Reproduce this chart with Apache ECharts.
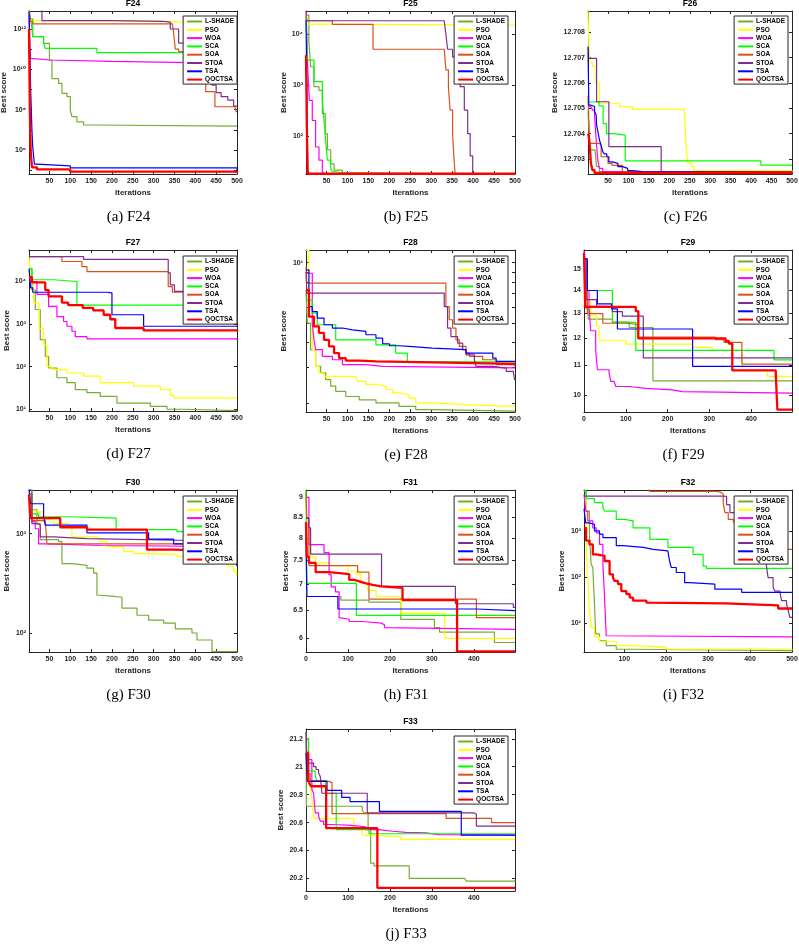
<!DOCTYPE html>
<html>
<head>
<meta charset="utf-8">
<script src="https://cdn.jsdelivr.net/npm/echarts@6.0.0/dist/echarts.min.js"></script>
<style>
html,body{margin:0;padding:0;background:#fff}
#main{width:799px;height:944px}
</style>
</head>
<body>
<div id="main"></div>
<script>
// algorithms, in legend order
var algos = ['L-SHADE', 'PSO', 'WOA', 'SCA', 'SOA', 'STOA', 'TSA', 'QOCTSA'];
var lineColors = ['#77AC30', '#FFFF00', '#FF00FF', '#00FF00', '#D95319', '#7E2F8E', '#0000FF', '#FF0000'];

// convergence curves [iteration, best score], one list per algorithm (same order as algos)
var f24 = [
  [[1,8e12],[5,3e12],[8,1.07e12],[10,4.2e11],[36,1.95e11],[50,2.9e10],[56,3.5e9],[72,2.0e9],[80,6.5e8],[92,4.4e8],[100,9.5e7],[104,4.5e7],[116,2.5e7],[132,1.74e7],[150,1.55e7],[500,1.5e7]],
  [[1,7e12],[4,2.6e12],[200,2.4e12],[330,2.1e12],[380,1.9e12],[500,1.9e12]],
  [[1,5e12],[3,1e11],[5,3.5e10],[8,2.9e10],[50,2.5e10],[200,2.0e10],[500,1.8e10]],
  [[1,8e12],[4,3.2e12],[10,4.2e11],[30,4.2e11],[36,2.1e11],[40,1.1e11],[164,6.8e10],[440,6.8e10],[460,7.6e9],[500,7.6e9]],
  [[1,1e13],[5,2.3e12],[10,1.8e12],[345,1.8e12],[348,6e11],[352,1e11],[360,7.6e10],[380,1e10],[400,3e9],[425,7.8e8],[447,1.4e8],[495,1.4e8],[498,8e7],[500,8e7]],
  [[1,1e13],[32,2.6e12],[200,2.4e12],[324,2.2e12],[340,1e12],[360,2e11],[400,3e10],[430,6e9],[440,1.66e9],[450,7e8],[462,4.4e8],[478,3e8],[492,1.5e8],[500,1.5e8]],
  [[1,7e12],[3,1e11],[5,1e9],[8,1e7],[10,1.4e6],[14,2e5],[20,1.66e5],[100,1.3e5],[500,8.5e4]],
  [[1,1e12],[3,1e8],[5,1e6],[8,1.4e5],[20,1.1e5],[100,8.5e4],[500,7.2e4]]
];
var f25 = [
  [[1,2.4e4],[8,7.2e3],[12,2.3e3],[20,9.3e2],[32,7.9e2],[40,2.75e2],[47,1.1e2],[52,5.3e1],[60,2.8e1],[68,2.1e1],[88,1.86e1],[112,1.78e1],[500,1.78e1]],
  [[1,1.6e4],[2,1.53e4],[500,1.53e4]],
  [[1,2.9e4],[3,1e4],[5,2.3e3],[9,5e2],[16,2.0e2],[24,6.0e1],[32,3.3e1],[40,1.95e1],[44,1.78e1],[500,1.78e1]],
  [[1,2.4e4],[4,3.1e3],[20,1.17e3],[40,5e2],[44,2e2],[48,8.1e1],[52,3.3e1],[60,2.3e1],[64,1.95e1],[72,1.8e1],[104,1.78e1],[500,1.78e1]],
  [[1,2.4e4],[4,1.86e4],[64,1.58e4],[161,5.1e3],[331,5.1e3],[335,2.0e3],[341,9.3e2],[345,3.2e2],[351,1.1e2],[354,3.9e1],[357,1.78e1],[500,1.78e1]],
  [[1,1.86e4],[331,1.86e4],[335,1e4],[339,5.1e3],[351,3.6e3],[363,2e3],[369,9.3e2],[379,3.2e2],[387,1.1e2],[393,4e1],[399,1.78e1],[500,1.78e1]],
  [[1,1.9e4],[3,1e3],[5,2e1],[8,1.78e1],[500,1.78e1]],
  [[1,3.9e3],[3,1.5e2],[5,1.78e1],[500,1.78e1]]
];
var f26 = [
  [[1,12.7049],[4,12.70388],[8,12.70336],[18,12.7033],[22,12.7027],[29,12.7025],[60,12.70244],[500,12.70242]],
  [[1,12.7089],[3,12.7075],[6,12.70678],[12,12.70665],[20,12.706],[29,12.7052],[78,12.70507],[110,12.70496],[237,12.70496],[241,12.7035],[245,12.70283],[255,12.7027],[260,12.70255],[500,12.70245]],
  [[1,12.70507],[8,12.70505],[12,12.70493],[17,12.70474],[21,12.70375],[25,12.70296],[29,12.70263],[37,12.7025],[60,12.70244],[500,12.70243]],
  [[1,12.70525],[28,12.7051],[38,12.7044],[46,12.704],[66,12.70394],[92,12.70293],[424,12.70276],[500,12.70276]],
  [[1,12.7055],[5,12.70362],[28,12.70355],[33,12.70309],[50,12.70283],[60,12.70275],[85,12.7025],[500,12.70244]],
  [[1,12.70697],[22,12.70526],[52,12.70349],[180,12.7025],[500,12.70245]],
  [[1,12.70743],[3,12.70513],[8,12.70507],[17,12.70487],[21,12.70474],[22,12.70434],[26,12.70401],[29,12.70375],[33,12.70355],[37,12.70329],[41,12.7032],[47,12.70309],[52,12.70289],[61,12.70283],[74,12.7027],[86,12.70263],[98,12.70254],[110,12.7025],[134,12.70247],[500,12.70246]],
  [[1,12.704],[3,12.70388],[6,12.70336],[8,12.70283],[12,12.70256],[17,12.70245],[500,12.70243]]
];
var f27 = [
  [[1,2.0e4],[8,6.3e3],[16,2.2e3],[28,4.3e2],[40,1.74e2],[48,9.3e1],[68,5.5e1],[92,4.2e1],[112,2.9e1],[140,2.45e1],[172,2.0e1],[212,1.4e1],[292,1.17e1],[332,1.0e1],[371,9.3],[500,9.2]],
  [[1,4.0e4],[5,1e4],[12,3.2e3],[25,7.9e2],[36,3.2e2],[44,1.02e2],[56,8.5e1],[92,7.1e1],[132,6.0e1],[172,4.2e1],[252,3.5e1],[316,2.9e1],[340,2.1e1],[348,1.86e1],[500,1.8e1]],
  [[1,1e4],[20,5.0e3],[48,2.6e3],[68,1.5e3],[84,1.15e3],[92,8.9e2],[104,6.8e2],[112,5.1e2],[140,4.5e2],[500,4.2e2]],
  [[1,2.0e4],[8,1.1e4],[60,1.0e4],[116,2.8e3],[480,2.8e3],[495,2.2e3],[500,2.2e3]],
  [[1,3.85e4],[80,2.95e4],[128,2.24e4],[140,1.7e4],[328,1.7e4],[335,7.6e3],[345,5.6e3],[420,3.2e3],[470,1.6e3],[500,1.0e3]],
  [[1,3.85e4],[132,3.3e4],[330,3.3e4],[335,1.6e4],[340,8.3e3],[350,5.9e3],[450,4e3],[480,2e3],[500,1.0e3]],
  [[1,2e4],[5,7.1e3],[10,5.6e3],[188,5.4e3],[200,1.66e3],[276,8.9e2],[500,8.5e2]],
  [[1,1.26e4],[8,9.5e3],[40,6.3e3],[48,4.5e3],[80,3.2e3],[95,2.8e3],[130,2.4e3],[155,2.1e3],[180,1.66e3],[196,1.3e3],[208,8.1e2],[276,7.1e2],[500,6.6e2]]
];
var f28 = [
  [[1,7.3],[4,4.99],[12,3.68],[24,3.04],[36,2.82],[48,2.61],[60,2.42],[72,2.28],[96,2.15],[128,2.07],[168,2.0],[223,1.92],[263,1.85],[303,1.82],[500,1.81]],
  [[1,11.5],[8,6.04],[16,3.68],[24,3.04],[32,2.82],[44,2.71],[120,2.71],[124,2.56],[144,2.47],[168,2.42],[192,2.33],[208,2.24],[223,2.2],[247,2.11],[263,2.0],[303,1.96],[383,1.92],[500,1.91]],
  [[1,8.85],[16,4.99],[20,4.12],[24,3.68],[40,3.41],[64,3.28],[88,3.1],[144,3.04],[184,2.99],[500,2.98]],
  [[1,6.5],[16,5.6],[28,4.9],[72,4.12],[168,3.89],[215,3.54],[243,3.2],[500,3.2]],
  [[1,9.5],[3,7.9],[326,7.9],[335,6.04],[343,5.19],[351,4.72],[359,4.12],[367,3.82],[383,3.54],[391,3.41],[423,3.28],[455,3.1],[499,3.04],[500,3.04]],
  [[1,9],[3,7.05],[326,7.05],[331,6.04],[339,4.72],[347,4.28],[363,3.97],[375,3.68],[383,3.47],[403,3.28],[407,3.04],[447,2.98],[479,2.87],[496,2.82],[499,2.6],[500,2.6]],
  [[1,9.2],[8,6.04],[16,5.7],[28,5.29],[44,4.9],[64,4.72],[88,4.62],[112,4.54],[144,4.37],[168,4.2],[184,3.94],[200,3.85],[223,3.82],[247,3.75],[303,3.68],[383,3.54],[447,3.34],[455,3.22],[500,3.22]],
  [[1,7.3],[8,5.38],[20,4.81],[32,4.46],[44,4.12],[56,3.82],[68,3.54],[80,3.34],[96,3.25],[128,3.22],[168,3.18],[303,3.13],[500,3.1]]
];
var f29 = [
  [[0,15.5],[5,13.2],[10,12.77],[68,12.65],[108,12.43],[165,10.47],[498,10.47]],
  [[0,15.5],[4,13.5],[16,12.9],[30,12.5],[36,11.93],[100,11.78],[260,11.66],[307,11.55],[379,10.83],[439,10.62],[498,10.6]],
  [[0,15.9],[4,14.0],[12,13.3],[16,12.3],[28,11.55],[32,10.85],[60,10.74],[64,10.45],[72,10.39],[76,10.28],[108,10.22],[148,10.17],[212,10.11],[235,10.06],[498,10.06]],
  [[0,15.5],[4,14.0],[68,12.64],[124,11.55],[455,11.2],[498,11.2]],
  [[0,15.5],[8,13.0],[45,12.6],[100,12.55],[130,12.05],[315,11.95],[335,11.85],[378,11.05],[498,11.05]],
  [[0,15.5],[5,13.6],[30,13.3],[68,13.08],[92,12.89],[142,11.27],[498,11.27]],
  [[0,15.5],[8,14.0],[32,13.41],[66,13.2],[80,12.37],[260,10.97],[498,10.97]],
  [[0,15.8],[3,13.28],[124,13.1],[130,12.0],[339,11.9],[347,11.8],[355,10.83],[459,10.74],[463,9.54],[498,9.54]]
];
var f30 = [
  [[1,2.5e3],[8,1.74e3],[20,1.26e3],[28,8.7e2],[72,8.3e2],[80,5.0e2],[104,4.8e2],[140,4.5e2],[156,4.0e2],[164,2.4e2],[172,2.34e2],[204,2.29e2],[224,1.78e2],[260,1.51e2],[288,1.35e2],[324,1.26e2],[352,1.1e2],[392,1.0e2],[404,8.5e1],[440,6.5e1],[500,6.5e1]],
  [[1,2.8e3],[8,1.66e3],[36,1.38e3],[60,1.26e3],[96,1.17e3],[104,9.3e2],[164,8.9e2],[172,8.3e2],[188,7.4e2],[228,6.6e2],[252,6.3e2],[292,6.2e2],[356,5.9e2],[380,5.6e2],[444,5.5e2],[476,4.7e2],[492,4.2e2],[499,3.7e2],[500,3.7e2]],
  [[1,1.58e3],[8,1.32e3],[16,1.12e3],[24,7.9e2],[40,7.8e2],[90,7.6e2],[172,7.4e2],[500,7.2e2]],
  [[1,2.5e3],[8,1.58e3],[24,1.48e3],[100,1.43e3],[210,1.1e3],[356,1.05e3],[450,9.5e2],[495,8.1e2],[500,8.1e2]],
  [[1,2.0e3],[8,1.35e3],[40,1.32e3],[44,7.9e2],[352,7.85e2],[470,7.8e2],[495,6.6e2],[500,6.3e2]],
  [[1,2.8e3],[8,1.26e3],[20,1.23e3],[28,9.3e2],[60,8.9e2],[140,8.6e2],[348,8.5e2],[495,7.9e2],[499,4.7e2],[500,4.7e2]],
  [[1,2.8e3],[5,2.0e3],[36,1.48e3],[40,1.22e3],[140,1.02e3],[288,8.8e2],[348,7.9e2],[500,7.9e2]],
  [[1,2.5e3],[4,1.43e3],[76,1.16e3],[140,1.1e3],[284,6.9e2],[348,6.6e2],[500,6.6e2]]
];
var f31 = [
  [[0,8.0],[2,6.76],[83,6.69],[150,6.65],[226,6.33],[306,6.18],[318,6.1],[449,5.92],[498,5.92]],
  [[0,9.0],[3,7.88],[11,7.58],[23,7.45],[55,7.39],[99,7.27],[120,7.21],[131,7.02],[147,6.88],[167,6.76],[226,6.44],[330,6.03],[334,5.99],[498,5.99]],
  [[0,9.0],[7,7.85],[43,7.67],[55,7.2],[60,6.95],[70,6.85],[79,6.36],[83,6.33],[103,6.29],[135,6.26],[179,6.23],[187,6.18],[191,6.15],[498,6.14]],
  [[0,9.2],[2,7.02],[120,6.4],[498,6.4]],
  [[0,9.1],[2,8.47],[7,7.39],[123,7.25],[150,6.71],[406,6.36],[498,6.36]],
  [[0,8.47],[6,8.24],[11,7.64],[180,6.96],[356,6.62],[494,6.55],[498,6.55]],
  [[0,8.1],[2,6.76],[76,6.52],[406,6.49],[498,6.49]],
  [[0,8.38],[2,7.58],[7,7.45],[23,7.25],[55,7.21],[103,7.09],[115,7.06],[127,7.02],[143,6.99],[159,6.96],[179,6.93],[230,6.69],[360,5.77],[498,5.77]]
];
var f32 = [
  [[4,7.3e3],[9,2.7e3],[17,8.5e2],[21,1.9e2],[25,1.62e2],[29,2.6e1],[32,5.9],[41,4.2],[57,3.3],[81,2.75],[121,2.57],[500,2.51]],
  [[4,5.2e3],[9,5.1e2],[13,9.8e1],[17,1.86e1],[21,8.1],[29,5.1],[41,4.0],[81,3.3],[121,3.05],[200,2.75],[500,2.63]],
  [[4,6.2e3],[8,2.7e3],[13,1.66e3],[25,1.17e3],[33,9.1e2],[41,5.1e2],[49,2.0e2],[53,3.6e1],[57,5.4],[61,5.1],[500,5.1]],
  [[4,7.3e3],[9,5.0e3],[29,4.1e3],[49,3.2e3],[53,2.7e3],[81,1.78e3],[101,1.66e3],[121,1.17e3],[161,6.6e2],[204,4.4e2],[264,3.1e2],[288,1.74e2],[296,1.55e2],[500,1.55e2]],
  [[4,8.9e3],[160,7.2e3],[320,6.9e3],[330,6.3e3],[336,4.0e3],[340,2.5e3],[348,1.78e3],[360,1.58e3],[400,1e3],[440,6.3e2],[460,4.0e2],[500,4.0e2]],
  [[4,5.7e3],[336,5.6e3],[344,3.7e3],[352,2.5e3],[380,1.58e3],[420,6.3e2],[431,2.24e2],[439,1.74e2],[443,9.8e1],[455,6.0e1],[459,5.0e1],[471,4.7e1],[475,3.1e1],[487,2.6e1],[491,1.86e1],[495,1.35e1],[500,1.35e1]],
  [[4,3.0e3],[8,1.5e3],[17,1.38e3],[29,1.0e3],[41,8.5e2],[49,7.2e2],[81,4.8e2],[97,4.4e2],[145,4.0e2],[169,3.7e2],[204,3.4e2],[208,2.24e2],[212,1.62e2],[224,1.26e2],[244,7.6e1],[256,7.1e1],[316,5.5e1],[380,4.7e1],[500,4.7e1]],
  [[4,1.17e3],[9,6.2e2],[17,5.1e2],[25,3.1e2],[33,2.9e2],[53,2.24e2],[65,1.15e2],[73,9.8e1],[77,8.3e1],[85,7.1e1],[93,5.0e1],[105,4.3e1],[113,3.6e1],[121,3.1e1],[153,2.8e1],[157,2.7e1],[340,2.45e1],[467,2.1e1],[500,2.1e1]]
];
var f33 = [
  [[0,21.25],[1,20.717],[134,20.69],[138,20.67],[148,20.55],[154,20.31],[162,20.29],[246,20.2],[378,20.19],[382,20.18],[498,20.174]],
  [[0,21.2],[6,20.98],[10,20.86],[14,20.77],[18,20.63],[114,20.56],[134,20.51],[138,20.5],[226,20.48],[498,20.48]],
  [[0,21.2],[6,21.05],[14,20.836],[18,20.81],[22,20.67],[30,20.645],[34,20.61],[42,20.586],[62,20.58],[110,20.57],[142,20.55],[174,20.538],[206,20.53],[238,20.526],[286,20.514],[318,20.51],[498,20.51]],
  [[0,21.2],[6,20.97],[22,20.93],[26,20.9],[46,20.81],[72,20.55],[150,20.52],[498,20.515]],
  [[0,21.1],[5,20.95],[10,20.9],[46,20.888],[62,20.664],[334,20.63],[442,20.6],[498,20.6]],
  [[0,21.25],[2,21.026],[18,21.0],[24,20.98],[30,20.955],[34,20.93],[38,20.81],[146,20.67],[400,20.66],[406,20.575],[498,20.575]],
  [[0,21.1],[3,20.895],[50,20.83],[85,20.78],[105,20.75],[175,20.68],[370,20.51],[498,20.51]],
  [[0,21.1],[5,20.91],[8,20.88],[12,20.86],[48,20.56],[170,20.133],[498,20.133]]
];

// tick marks and tick labels
var xTicks50 = [50,100,150,200,250,300,350,400,450,500];
var xTicks100 = [0,100,200,300,400];
var xTicks100b = [100,200,300,400,500];
var yTicksF24 = [1e5,1e6,1e7,1e8,1e9,1e10,1e11,1e12];
var yLabelsF24 = [1e6,1e8,1e10,1e12];
var yTicksF25 = [1e2,1e3,1e4];
var yTicksF26 = [12.703,12.704,12.705,12.706,12.707,12.708];
var yTicksF27 = [1e1,1e2,1e3,1e4];
var yTicksF28 = [2,3,4,5,6,7,8,9,10];
var yLabelsF28 = [10];
var yTicksF29 = [10,11,12,13,14,15];
var yTicksF30 = [1e2,1e3];
var yTicksF31 = [6,6.5,7,7.5,8,8.5,9];
var yTicksF32 = [1e1,1e2,1e3];
var yTicksF33 = [20.2,20.4,20.6,20.8,21,21.2];

var panels = [
  {t:'F24', cap:'(a) F24', d:f24, g:[29,11,208,163],  x:[1,500], xt:xTicks50,  yt:'log',   y:[6.5e4,7.8e12],       ytk:yTicksF24, ylb:yLabelsF24, fmt:'pow',  lg:[562,16],  ng:21},
  {t:'F25', cap:'(b) F25', d:f25, g:[306,11,209,163], x:[1,500], xt:xTicks50,  yt:'log',   y:[17.6,2.9e4],         ytk:yTicksF25, ylb:yTicksF25,  fmt:'pow',  lg:[291,16],  ng:18},
  {t:'F26', cap:'(c) F26', d:f26, g:[588,11,204,163], x:[1,500], xt:xTicks50,  yt:'value', y:[12.70241,12.70884],  ytk:yTicksF26, ylb:yTicksF26,  fmt:'fix3', lg:[11,16],   ng:29},
  {t:'F27', cap:'(d) F27', d:f27, g:[29,250,208,161], x:[1,500], xt:xTicks50,  yt:'log',   y:[9.1,5.5e4],          ytk:yTicksF27, ylb:yTicksF27,  fmt:'pow',  lg:[562,256], ng:18},
  {t:'F28', cap:'(e) F28', d:f28, g:[306,250,209,162],x:[1,500], xt:xTicks50,  yt:'log',   y:[1.8,11.56],          ytk:yTicksF28, ylb:yLabelsF28, fmt:'pow',  lg:[291,256], ng:18},
  {t:'F29', cap:'(f) F29', d:f29, g:[584,250,208,162],x:[0,498], xt:xTicks100, yt:'log',   y:[9.47,15.95],         ytk:yTicksF29, ylb:yTicksF29,  fmt:'num',  lg:[11,256],  ng:15},
  {t:'F30', cap:'(g) F30', d:f30, g:[29,490,208,162], x:[1,500], xt:xTicks50,  yt:'log',   y:[64.4,2750],          ytk:yTicksF30, ylb:yTicksF30,  fmt:'pow',  lg:[562,496], ng:18},
  {t:'F31', cap:'(h) F31', d:f31, g:[306,490,209,162],x:[0,498], xt:xTicks100, yt:'log',   y:[5.76,9.19],          ytk:yTicksF31, ylb:yTicksF31,  fmt:'num',  lg:[291,496], ng:16},
  {t:'F32', cap:'(i) F32', d:f32, g:[584,490,208,162],x:[4,500], xt:xTicks100b,yt:'log',   y:[2.4,7700],           ytk:yTicksF32, ylb:yTicksF32,  fmt:'pow',  lg:[11,496],  ng:18},
  {t:'F33', cap:'(j) F33', d:f33, g:[306,729,209,162],x:[0,498], xt:xTicks100, yt:'value', y:[20.11,21.27],        ytk:yTicksF33, ylb:yTicksF33,  fmt:'num',  lg:[291,736], ng:21}
];

var AXIS = '#262626';
var FONT = '"Liberation Sans", Arial, "DejaVu Sans", sans-serif';

function sup(n){
  var m = {'0':'\u2070','1':'\u00b9','2':'\u00b2','3':'\u00b3','4':'\u2074','5':'\u2075','6':'\u2076','7':'\u2077','8':'\u2078','9':'\u2079','-':'\u207b'};
  return String(n).split('').map(function(c){ return m[c]; }).join('');
}
function labelFmt(kind){
  if (kind == 'pow') return function(v){ return '10' + sup(Math.round(Math.log10(v))); };
  if (kind == 'fix3') return function(v){ return (+v).toFixed(3); };
  return function(v){ return String(Math.round(v * 10) / 10); };
}

var option = {
  animation: false,
  backgroundColor: '#fff',
  textStyle: {fontFamily: FONT},
  grid: [], xAxis: [], yAxis: [], series: [], legend: [], title: []
};

panels.forEach(function(p, i){
  option.grid.push({left: p.g[0], top: p.g[1], width: p.g[2], height: p.g[3], containLabel: false, outerBoundsMode: 'none', show: false});

  // bottom + top x axes (top one only carries the box line and ticks)
  [false, true].forEach(function(top){
    option.xAxis.push({
      type: 'value', gridIndex: i, position: top ? 'top' : 'bottom',
      min: p.x[0], max: p.x[1],
      axisLine: {show: true, onZero: false, lineStyle: {color: AXIS, width: 1}},
      axisTick: {show: true, inside: true, length: 3, customValues: p.xt, lineStyle: {color: AXIS}},
      axisLabel: {show: !top, customValues: p.xt, fontSize: 7, fontWeight: 'bold', color: AXIS, margin: 4, fontFamily: FONT},
      splitLine: {show: false},
      name: top ? '' : 'Iterations', nameLocation: 'middle', nameGap: 15,
      nameTextStyle: {fontSize: 8, fontWeight: 'bold', color: AXIS, fontFamily: FONT}
    });
  });
  // left + right y axes
  [false, true].forEach(function(right){
    option.yAxis.push({
      type: p.yt, logBase: 10, gridIndex: i, position: right ? 'right' : 'left',
      min: p.y[0], max: p.y[1],
      axisLine: {show: true, onZero: false, lineStyle: {color: AXIS, width: 1}},
      axisTick: {show: true, inside: true, length: 3, customValues: p.ytk, lineStyle: {color: AXIS}},
      axisLabel: {show: !right, customValues: p.ylb, formatter: labelFmt(p.fmt), fontSize: 7, fontWeight: 'bold', color: AXIS, margin: 3, fontFamily: FONT},
      splitLine: {show: false},
      name: right ? '' : 'Best score', nameLocation: 'middle', nameGap: p.ng,
      nameTextStyle: {fontSize: 8, fontWeight: 'bold', color: AXIS, fontFamily: FONT}
    });
  });

  algos.forEach(function(name, k){
    option.series.push({
      type: 'line', name: name,
      xAxisIndex: 2 * i, yAxisIndex: 2 * i,
      data: p.d[k], step: 'end', symbol: 'none', clip: true,
      z: k == 7 ? 3 : 2,
      lineStyle: {color: lineColors[k], width: k == 7 ? 2.3 : 1.2},
      itemStyle: {color: lineColors[k]},
      emphasis: {disabled: true}
    });
  });

  option.legend.push({
    data: algos, orient: 'vertical', right: p.lg[0], top: p.lg[1],
    itemWidth: 15, itemHeight: 7, itemGap: 1.3, padding: [2, 3, 1, 3],
    borderColor: AXIS, borderWidth: 1, borderRadius: 0, backgroundColor: '#fff',
    selectedMode: false,
    itemStyle: {opacity: 0},
    textStyle: {fontSize: 6.5, fontWeight: 'bold', color: '#000', fontFamily: FONT, padding: [0, 0, 0, -2]}
  });

  option.title.push({
    text: p.t, left: p.g[0] + p.g[2] / 2, top: p.g[1] - 12, textAlign: 'center', padding: 0,
    textStyle: {fontSize: 8.5, fontWeight: 'bold', color: '#000', fontFamily: FONT}
  });
  option.title.push({
    text: p.cap, left: p.g[0] + p.g[2] / 2 - 4.5, top: p.g[1] + p.g[3] + 36, textAlign: 'center', padding: 0,
    textStyle: {fontSize: 15, fontWeight: 'normal', color: '#000', fontFamily: '"Liberation Serif", "DejaVu Serif", serif'}
  });
});

var myChart = echarts.init(document.getElementById('main'), null, {renderer: 'canvas'});
myChart.setOption(option);
</script>
</body>
</html>
